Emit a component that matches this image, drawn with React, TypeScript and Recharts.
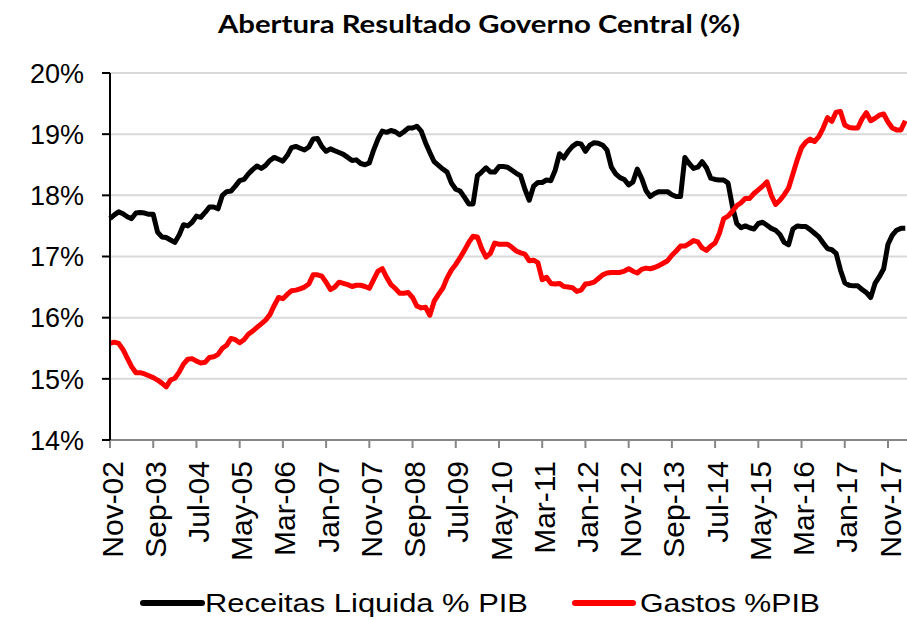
import React from 'react';
import { LineChart, Line, XAxis, YAxis, CartesianGrid } from 'recharts';

const MONTH_NAMES = ['Jan', 'Feb', 'Mar', 'Apr', 'May', 'Jun', 'Jul', 'Aug', 'Sep', 'Oct', 'Nov', 'Dec'];
const START_YEAR = 2002;
const START_MONTH = 10; // Nov

const receitas = [
  17.62, 17.68, 17.73, 17.70, 17.65, 17.62, 17.71, 17.72, 17.71, 17.69,
  17.69, 17.40, 17.32, 17.31, 17.27, 17.23, 17.35, 17.52, 17.50, 17.56,
  17.66, 17.64, 17.72, 17.81, 17.81, 17.78, 18.00, 18.06, 18.07, 18.15,
  18.24, 18.26, 18.35, 18.42, 18.48, 18.44, 18.49, 18.57, 18.62, 18.59,
  18.56, 18.65, 18.78, 18.80, 18.77, 18.74, 18.79, 18.92, 18.93, 18.80,
  18.72, 18.76, 18.73, 18.70, 18.67, 18.62, 18.57, 18.58, 18.52, 18.50,
  18.53, 18.74, 18.92, 19.05, 19.03, 19.06, 19.04, 18.99, 19.04, 19.10,
  19.10, 19.13, 19.05, 18.86, 18.70, 18.55, 18.49, 18.43, 18.38, 18.20,
  18.10, 18.07, 17.97, 17.86, 17.86, 18.32, 18.38, 18.45, 18.38, 18.38,
  18.47, 18.47, 18.46, 18.41, 18.36, 18.32, 18.10, 17.92, 18.15, 18.21,
  18.21, 18.25, 18.24, 18.41, 18.68, 18.61, 18.72, 18.80, 18.85, 18.84,
  18.72, 18.82, 18.86, 18.85, 18.82, 18.74, 18.46, 18.35, 18.29, 18.26,
  18.17, 18.22, 18.43, 18.28, 18.08, 17.98, 18.03, 18.06, 18.06, 18.06,
  18.01, 17.98, 17.98, 18.62, 18.52, 18.44, 18.46, 18.55, 18.45, 18.28,
  18.26, 18.25, 18.25, 18.20, 17.82, 17.54, 17.47, 17.50, 17.47, 17.45,
  17.54, 17.56, 17.51, 17.46, 17.43, 17.36, 17.23, 17.19, 17.45, 17.50,
  17.49, 17.49, 17.44, 17.38, 17.32, 17.22, 17.13, 17.11, 17.05, 16.78,
  16.57, 16.53, 16.52, 16.52, 16.46, 16.41, 16.33, 16.56, 16.67, 16.80,
  17.20, 17.35, 17.43, 17.46, 17.46,
];

const gastos = [
  15.58, 15.60, 15.58, 15.48, 15.34, 15.20, 15.10, 15.10, 15.08, 15.05,
  15.02, 14.98, 14.93, 14.87, 14.98, 15.01, 15.11, 15.24, 15.32, 15.33,
  15.29, 15.26, 15.27, 15.35, 15.36, 15.40, 15.50, 15.55, 15.66, 15.64,
  15.59, 15.64, 15.73, 15.78, 15.84, 15.90, 15.96, 16.05, 16.20, 16.33,
  16.31, 16.38, 16.44, 16.45, 16.47, 16.50, 16.55, 16.70, 16.70, 16.68,
  16.58, 16.46, 16.50, 16.58, 16.56, 16.54, 16.51, 16.53, 16.53, 16.51,
  16.48, 16.62, 16.76, 16.80, 16.66, 16.54, 16.48, 16.40, 16.40, 16.41,
  16.33, 16.19, 16.16, 16.17, 16.04, 16.27, 16.38, 16.48, 16.65, 16.78,
  16.87, 16.98, 17.10, 17.23, 17.33, 17.32, 17.13, 16.99, 17.05, 17.22,
  17.20, 17.20, 17.20, 17.15, 17.09, 17.06, 17.04, 16.93, 16.94, 16.90,
  16.62, 16.66, 16.56, 16.55, 16.56, 16.51, 16.50, 16.49, 16.43, 16.45,
  16.55, 16.56, 16.58, 16.64, 16.70, 16.73, 16.74, 16.74, 16.74, 16.76,
  16.80, 16.76, 16.73, 16.79, 16.81, 16.80, 16.82, 16.85, 16.89, 16.93,
  17.02, 17.09, 17.17, 17.17, 17.21, 17.26, 17.24, 17.14, 17.10, 17.17,
  17.22, 17.38, 17.62, 17.66, 17.74, 17.83, 17.88, 17.95, 17.95, 18.03,
  18.09, 18.15, 18.22, 18.00, 17.85, 17.92, 18.01, 18.12, 18.35, 18.58,
  18.78, 18.87, 18.92, 18.88, 18.96, 19.10, 19.27, 19.21, 19.36, 19.37,
  19.15, 19.11, 19.10, 19.10, 19.25, 19.35, 19.22, 19.26, 19.31, 19.33,
  19.20, 19.10, 19.07, 19.07, 19.22,
];

const tickLabels = [
  'Nov-02', 'Sep-03', 'Jul-04', 'May-05', 'Mar-06', 'Jan-07', 'Nov-07', 'Sep-08', 'Jul-09', 'May-10',
  'Mar-11', 'Jan-12', 'Nov-12', 'Sep-13', 'Jul-14', 'May-15', 'Mar-16', 'Jan-17', 'Nov-17',
];
const yTicks = [14, 15, 16, 17, 18, 19, 20];

const TITLE = 'Abertura Resultado Governo Central (%)';
const series = [
  { key: 'receitas', name: 'Receitas Liquida % PIB', color: '#000000' },
  { key: 'gastos', name: 'Gastos %PIB', color: '#ff0000' },
];

const months = receitas.map((_, i) => {
  const m = START_MONTH + i;
  const y = START_YEAR + Math.floor(m / 12);
  return `${MONTH_NAMES[m % 12]}-${String(y % 100).padStart(2, '0')}`;
});
const data = months.map((month, i) => ({ idx: i, month, receitas: receitas[i], gastos: gastos[i] }));
const xTicks = tickLabels.map((l) => months.indexOf(l));

const AXIS_FONT = '"Liberation Sans", Arial, sans-serif';

const XTick = (props: any) => {
  const { x, y, payload } = props;
  return (
    <text
      x={x}
      y={y}
      transform={`rotate(-90, ${x}, ${y})`}
      textAnchor="end"
      dy="0.42em"
      fontFamily={AXIS_FONT}
      fontSize={30}
      fill="#000"
    >
      {months[payload.value]}
    </text>
  );
};

const YTick = (props: any) => {
  const { x, y, payload } = props;
  return (
    <text x={x} y={y} textAnchor="end" dy="0.36em" fontFamily={AXIS_FONT} fontSize={27} fill="#000">
      {`${payload.value}%`}
    </text>
  );
};

const legendLayout = [
  { lineX1: 143, lineX2: 202, textX: 205, textLen: 323 },
  { lineX1: 575, lineX2: 633, textX: 640, textLen: 180 },
];

export default function App() {
  return (
    <div style={{ position: 'absolute', left: 0, top: 0, width: 907, height: 620, background: '#fff' }}>
      <LineChart width={907} height={620} data={data} margin={{ top: 73, right: 0, left: 0, bottom: 0 }}>
        <CartesianGrid horizontal vertical={false} stroke="#d9d9d9" strokeWidth={2} />
        <XAxis
          dataKey="idx"
          type="number"
          domain={[0, 184.4]}
          ticks={xTicks}
          interval={0}
          height={180}
          axisLine={{ stroke: '#868686', strokeWidth: 2 }}
          tickLine={{ stroke: '#868686', strokeWidth: 2 }}
          tickSize={8}
          tickMargin={13}
          tick={<XTick />}
        />
        <YAxis
          type="number"
          domain={[14, 20]}
          ticks={yTicks}
          interval={0}
          width={110}
          axisLine={{ stroke: '#000', strokeWidth: 2 }}
          tickLine={{ stroke: '#000', strokeWidth: 2 }}
          tickSize={8}
          tickMargin={18}
          tick={<YTick />}
        />
        {series.map((s) => (
          <Line
            key={s.key}
            type="linear"
            dataKey={s.key}
            name={s.name}
            stroke={s.color}
            strokeWidth={5}
            strokeLinejoin="round"
            dot={false}
            activeDot={false}
            isAnimationActive={false}
          />
        ))}
      </LineChart>
      <svg width={907} height={620} style={{ position: 'absolute', left: 0, top: 0, pointerEvents: 'none' }}>
        <text
          x={218}
          y={33}
          textLength={522}
          lengthAdjust="spacingAndGlyphs"
          fontFamily="Lato, 'Open Sans', sans-serif"
          fontWeight="bold"
          fontSize={25}
          fill="#000"
        >
          {TITLE}
        </text>
        {series.map((s, i) => {
          const l = legendLayout[i];
          return (
            <g key={s.key}>
              <line x1={l.lineX1} y1={603} x2={l.lineX2} y2={603} stroke={s.color} strokeWidth={6} strokeLinecap="round" />
              <text
                x={l.textX}
                y={612}
                textLength={l.textLen}
                lengthAdjust="spacingAndGlyphs"
                fontFamily={AXIS_FONT}
                fontSize={25}
                fill="#000"
              >
                {s.name}
              </text>
            </g>
          );
        })}
      </svg>
    </div>
  );
}
